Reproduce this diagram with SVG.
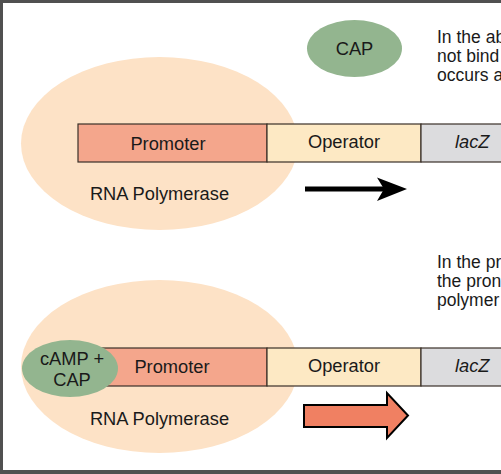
<svg xmlns="http://www.w3.org/2000/svg" width="501" height="474" viewBox="0 0 501 474">
<style>
.t{font-family:"Liberation Sans",Arial,sans-serif;fill:#1a1a1a}
.lbl{font-size:18.3px}
.note{font-size:17.5px}
.box{stroke:#3a3028;stroke-width:1.2}
.pol{fill:#fde2c6}
.cap{fill:#93b58f}
</style>
<rect x="0" y="0" width="501" height="474" fill="#ffffff"/>
<g id="frame">
<rect x="0" y="0" width="501" height="3" fill="#505050"/>
<rect x="0" y="0" width="3" height="474" fill="#505050"/>
<rect x="0" y="470" width="501" height="4" fill="#505050"/>
</g>
<g id="top-rnapol"><ellipse class="pol" cx="159.5" cy="143.5" rx="138.5" ry="86.5"/></g>
<g id="top-promoter"><rect class="box" x="78" y="124" width="189" height="38" fill="#f4a68c"/><text class="t lbl" x="168" y="150" text-anchor="middle">Promoter</text></g>
<g id="top-operator"><rect class="box" x="267" y="124" width="154" height="38" fill="#fde9c4"/><text class="t lbl" x="344" y="148" text-anchor="middle">Operator</text></g>
<g id="top-lacz"><rect class="box" x="421" y="124" width="90" height="38" fill="#dcdcde"/><text class="t lbl" x="455" y="148" font-style="italic">lacZ</text></g>
<g id="top-rnapol-label"><text class="t lbl" x="159.5" y="200" text-anchor="middle">RNA Polymerase</text></g>
<g id="top-cap"><ellipse class="cap" cx="354.5" cy="48.5" rx="47.5" ry="28.5"/><text class="t lbl" x="354.5" y="54.5" text-anchor="middle">CAP</text></g>
<g id="top-note"><text class="t note" x="437" y="43">In the ab</text><text class="t note" x="437" y="62">not bind</text><text class="t note" x="437" y="81">occurs a</text></g>
<g id="bottom-rnapol"><ellipse class="pol" cx="159.5" cy="366.5" rx="138.5" ry="86.5"/></g>
<g id="bottom-promoter"><rect class="box" x="100" y="348" width="167" height="38" fill="#f4a68c"/><text class="t lbl" x="172" y="373" text-anchor="middle">Promoter</text></g>
<g id="bottom-operator"><rect class="box" x="267" y="348" width="154" height="38" fill="#fde9c4"/><text class="t lbl" x="344" y="372" text-anchor="middle">Operator</text></g>
<g id="bottom-lacz"><rect class="box" x="421" y="348" width="90" height="38" fill="#dcdcde"/><text class="t lbl" x="455" y="372" font-style="italic">lacZ</text></g>
<g id="bottom-camp-cap"><ellipse class="cap" cx="70" cy="368.5" rx="48" ry="28.5"/><text class="t lbl" x="72" y="365" text-anchor="middle">cAMP +</text><text class="t lbl" x="72" y="386" text-anchor="middle">CAP</text></g>
<g id="bottom-rnapol-label"><text class="t lbl" x="159.5" y="425" text-anchor="middle">RNA Polymerase</text></g>
<g id="bottom-note"><text class="t note" x="437" y="268">In the pr</text><text class="t note" x="437" y="287">the pron</text><text class="t note" x="437" y="305.5">polymer</text></g>
<g id="connectors">
<line x1="305" y1="189" x2="385" y2="189" stroke="#000" stroke-width="5"/>
<polygon points="377,177.5 407,189 377,201 384,189" fill="#000"/>
<polygon points="304,405 387,405 387,393 408,415.5 387,438 387,427 304,427" fill="#f08062" stroke="#000" stroke-width="2" stroke-linejoin="miter"/>
</g>
</svg>
